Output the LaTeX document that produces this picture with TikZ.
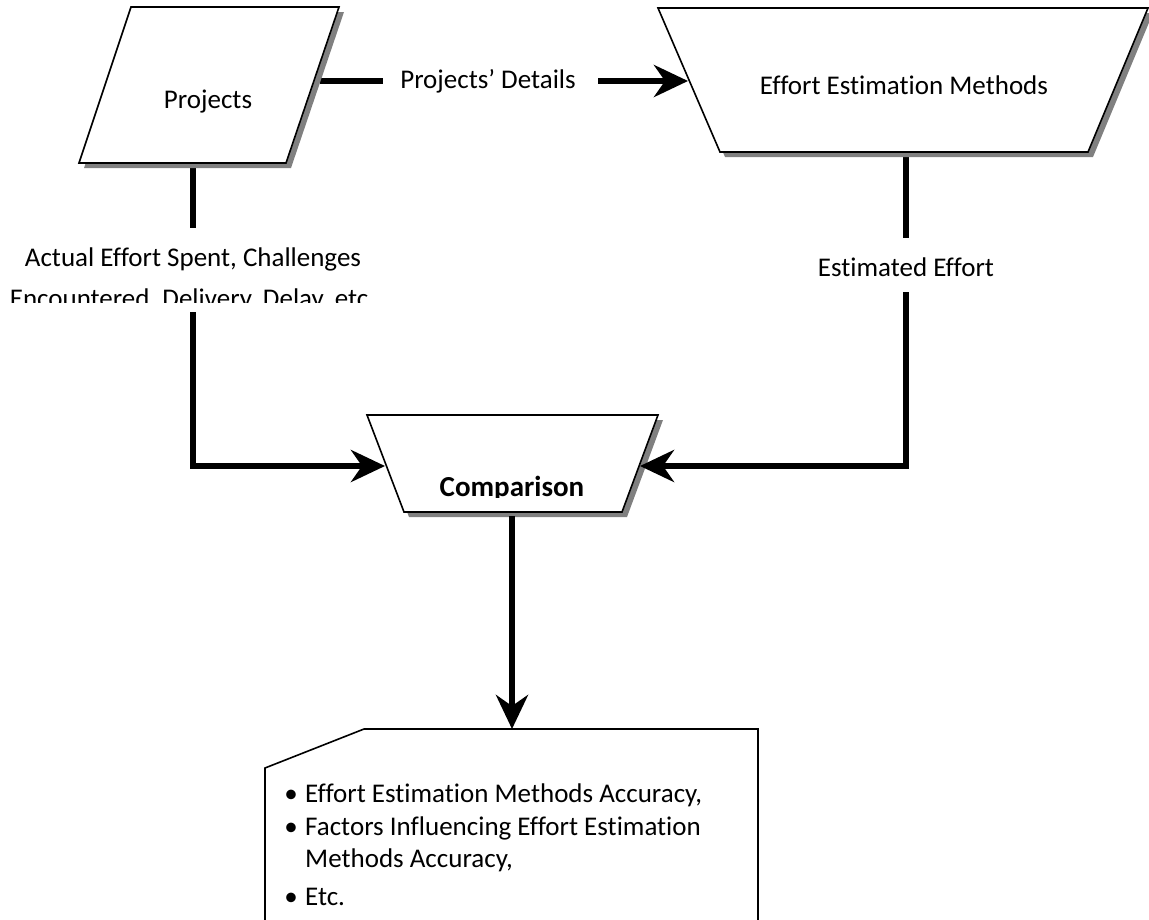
\documentclass[tikz,border=0pt]{standalone}
\usepackage{fontspec}
\setmainfont{Carlito}[Ligatures=NoCommon]
\usetikzlibrary{arrows.meta}
\begin{document}
\begin{tikzpicture}[x=1pt,y=-1pt,
  box/.style={draw=black, line width=1.6pt, fill=white, line join=miter},
  shade/.style={fill=black!50, draw=none},
  conn/.style={line width=6pt, line join=miter},
  arr/.style={conn, -{Stealth[length=34pt,width=32pt,inset=11pt]}},
  lbl/.style={font=\fontsize{27}{32}\selectfont, inner sep=0pt, anchor=base}]
\useasboundingbox (0,0) rectangle (1149,919);

% ---- connection points
\coordinate (pR) at (320,81);
\coordinate (pB) at (193,168);
\coordinate (eL) at (688,81);
\coordinate (eB) at (906,157);
\coordinate (cL) at (385,466);
\coordinate (cR) at (640,466);
\coordinate (cB) at (512,516);
\coordinate (dT) at (512,729);
\coordinate (lc) at (193,466);
\coordinate (rc) at (906,466);

% ---- labels
\node[lbl] (pd) at (488,88) {Projects’ Details};
\node[lbl] (ae1) at (193,266) {Actual Effort Spent, Challenges};
\begin{scope}
  \clip (0,240) rectangle (420,302);
  \node[lbl] (ae2) at (189,307) {Encountered, Delivery, Delay, etc};
\end{scope}
\node[lbl] (ee) at (906,276) {Estimated Effort};
\coordinate (aeTop) at (193,228);
\coordinate (aeBot) at (193,312);
\coordinate (eeTop) at (906,238);
\coordinate (eeBot) at (906,292);
\coordinate (pdL) at (383,81);
\coordinate (pdR) at (598,81);

% ---- plain connector segments
\draw[conn] (pR) -- (pdL);
\draw[conn] (pB) -- (aeTop);
\draw[conn] (eB) -- (eeTop);
\draw[conn] (cB) -- (512,640);

% ---- Projects (parallelogram)
\fill[shade] (136,12) -- (344,12) -- (291,168) -- (84,168) -- cycle;
\draw[box] (131,7) -- (339,7) -- (286,163) -- (79,163) -- cycle;
\node[lbl] (proj) at (208,108) {Projects};

% ---- Effort Estimation Methods (trapezium)
\fill[shade] (663,13) -- (1153,13) -- (1093,157) -- (725,157) -- cycle;
\draw[box] (658,8) -- (1148,8) -- (1088,152) -- (720,152) -- cycle;
\node[lbl] (eem) at (904,94) {Effort Estimation Methods};

% ---- Comparison (trapezium)
\fill[shade] (372,420) -- (663,420) -- (627,517) -- (409,517) -- cycle;
\draw[box] (367,415) -- (658,415) -- (622,512) -- (404,512) -- cycle;
\begin{scope}
  \clip (360,420) rectangle (660,497);
  \node[lbl, font=\fontsize{29}{34}\selectfont\bfseries] (cmp) at (512,496) {Comparison};
\end{scope}

% ---- Result document
\draw[box] (364,729) -- (758,729) -- (758,930) -- (265,930) -- (265,768) -- cycle;
\node[lbl] (d1) at (291,802) {\textbullet};
\node[lbl] (d2) at (291,835) {\textbullet};
\node[lbl] (d4) at (291,905) {\textbullet};
\node[lbl, anchor=base west] (b1) at (305,802) {Effort Estimation Methods Accuracy,};
\node[lbl, anchor=base west] (b2) at (305,835) {Factors Influencing Effort Estimation};
\node[lbl, anchor=base west] (b3) at (305,867) {Methods Accuracy,};
\node[lbl, anchor=base west] (b4) at (305,905) {Etc.};

% ---- arrows
\draw[arr] (pdR) -- (eL);
\draw[arr] (aeBot) -- (lc) -- (cL);
\draw[arr] (eeBot) -- (rc) -- (cR);
\draw[arr] (cB) -- (dT);
\end{tikzpicture}
\end{document}
